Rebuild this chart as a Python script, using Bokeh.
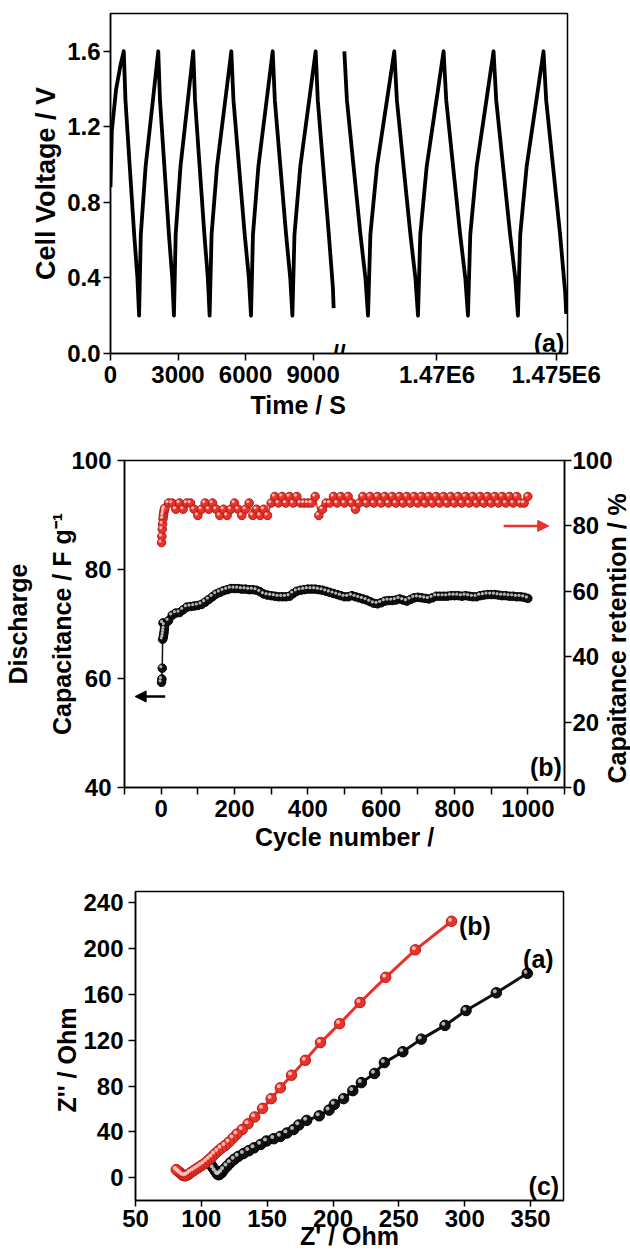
import math
from bokeh.plotting import figure
from bokeh.layouts import column
from bokeh.models import (Range1d, LinearAxis, Label, Arrow, NormalHead, Title,
                          ColumnDataSource, PrintfTickFormatter)
from bokeh.transform import dodge
from bokeh.embed import file_html
from bokeh.resources import INLINE

FONT = "Liberation Sans"
RED = "#e8322a"
TICK_SIZE = "24px"
TITLE_SIZE = "25px"

# ---------------- Panel (a): galvanostatic charge/discharge ----------------
time_seg1 = [0, 60, 250, 450, 590,
             665, 855, 1052, 1195, 1270,
             1347, 1560, 1883, 2122,
             2199, 2394, 2596, 2742, 2819,
             2896, 3110, 3436, 3676,
             3756, 3960, 4171, 4324, 4404,
             4491, 4732, 5098, 5368,
             5464, 5709, 5963, 6147, 6243,
             6330, 6570, 6936, 7206,
             7302, 7547, 7801, 7985, 8081,
             8174, 8433, 8825, 9115,
             9210, 9450, 9700, 9880, 9914]
volt_seg1 = [0.88, 1.18, 1.40, 1.53, 1.60,
             1.34, 0.99, 0.63, 0.40, 0.20,
             0.63, 0.99, 1.34, 1.60,
             1.34, 0.99, 0.63, 0.40, 0.20,
             0.63, 0.99, 1.34, 1.60,
             1.34, 0.99, 0.63, 0.40, 0.20,
             0.63, 0.99, 1.34, 1.60,
             1.34, 0.99, 0.63, 0.40, 0.20,
             0.63, 0.99, 1.34, 1.60,
             1.34, 0.99, 0.63, 0.40, 0.20,
             0.63, 0.99, 1.34, 1.60,
             1.34, 0.99, 0.63, 0.35, 0.24]
time_seg2 = [1466116, 1466225, 1466503, 1466791, 1467000, 1467109,
             1467208, 1467484, 1467902, 1468211,
             1468320, 1468598, 1468886, 1469095, 1469204,
             1469301, 1469569, 1469977, 1470277,
             1470389, 1470676, 1470972, 1471187, 1471299,
             1471396, 1471664, 1472072, 1472372,
             1472484, 1472771, 1473067, 1473282, 1473394,
             1473491, 1473759, 1474167, 1474467,
             1474579, 1474866, 1475162, 1475377, 1475418]
volt_seg2 = [1.60, 1.34, 0.99, 0.63, 0.40, 0.20,
             0.63, 0.99, 1.34, 1.60,
             1.34, 0.99, 0.63, 0.40, 0.20,
             0.63, 0.99, 1.34, 1.60,
             1.34, 0.99, 0.63, 0.40, 0.20,
             0.63, 0.99, 1.34, 1.60,
             1.34, 0.99, 0.63, 0.40, 0.20,
             0.63, 0.99, 1.34, 1.60,
             1.34, 0.99, 0.63, 0.32, 0.21]
tick_times_a = [0, 3000, 6000, 9000, 1470000, 1475000]
tick_labels_a = ["0", "3000", "6000", "9000", "1.47E6", "1.475E6"]
volt_ticks = [0.0, 0.4, 0.8, 1.2, 1.6]

# ---------------- Panel (b): cycling ----------------
cycles = [1, 2, 3, 4, 5, 6, 7, 8, 9] + list(range(10, 1001, 10))
discharge_cap = [59.3, 59.9, 61.9, 67.2, 70.2, 67.6, 68.1, 68.6, 69.1,
                 69.8, 70.6, 71.6, 72.0, 72.1, 72.6, 73.1, 73.2, 73.3, 73.4,
                 73.6, 74.0, 74.5, 75.0, 75.5, 75.8, 76.1, 76.3, 76.5, 76.5,
                 76.5, 76.4, 76.4, 76.3, 76.3, 76.2, 75.9, 75.5, 75.3, 75.2,
                 75.1, 75.0, 75.0, 75.0, 75.1, 75.6, 76.0, 76.2, 76.3, 76.4,
                 76.4, 76.4, 76.3, 76.2, 76.0, 75.8, 75.6, 75.4, 75.2, 75.0,
                 75.0, 75.2, 75.0, 74.8, 74.6, 74.4, 74.1, 73.8, 73.7, 73.9,
                 74.2, 74.3, 74.3, 74.4, 74.6, 74.4, 74.2, 74.5, 74.8, 74.9,
                 74.8, 74.7, 74.6, 74.8, 75.1, 75.1, 75.1, 75.1, 75.2, 75.2,
                 75.2, 75.1, 75.2, 75.1, 75.0, 75.0, 75.2, 75.3, 75.4, 75.4,
                 75.4, 75.3, 75.2, 75.2, 75.1, 75.1, 75.0, 75.0, 74.9, 74.7]
retention = [74.9, 76.8, 79.0, 80.6, 82.2, 83.2, 83.8, 84.6, 85.1,
             85.4, 87.0, 87.0, 85.1, 87.0, 85.1, 87.0, 87.0, 85.1, 83.2,
             85.1, 87.0, 85.1, 87.0, 85.1, 83.2, 85.1, 83.2, 85.1, 87.0,
             85.1, 83.2, 85.1, 87.0, 83.2, 85.1, 83.2, 85.1, 83.2, 87.0,
             89.0, 87.0, 89.0, 87.0, 89.0, 87.0, 89.0, 87.0, 87.0, 87.0,
             87.0, 89.0, 83.2, 85.1, 87.0, 87.0, 89.0, 87.0, 89.0, 87.0,
             89.0, 87.0, 85.1, 87.0, 89.0, 87.0, 89.0, 87.0, 89.0, 87.0,
             89.0, 87.0, 89.0, 87.0, 89.0, 87.0, 89.0, 87.0, 89.0, 87.0,
             89.0, 87.0, 89.0, 87.0, 89.0, 87.0, 89.0, 87.0, 89.0, 87.0,
             89.0, 87.0, 89.0, 87.0, 89.0, 87.0, 89.0, 87.0, 89.0, 87.0,
             89.0, 87.0, 89.0, 87.0, 89.0, 87.0, 89.0, 87.0, 87.0, 89.0]

# ---------------- Panel (c): Nyquist ----------------
zre_a = [347.5, 324, 301, 285, 267, 253, 239, 231.5, 221.5, 215, 208, 201, 197,
         189.5, 180, 174, 170, 165, 160, 155, 149.5, 145, 140, 136, 132, 128,
         125, 122, 119.5, 117, 115.5, 114, 113, 112, 110.5, 109, 107.5, 106]
zim_a = [178.5, 161.5, 146, 133, 121, 110, 100.5, 91, 83, 76, 69, 64, 59,
         54, 50, 46, 42, 39, 36, 34, 32, 29, 26, 23.5, 21, 18.5,
         16, 13, 10, 7, 4.5, 3, 2.5, 3.5, 6, 8.5, 11, 13]
zre_b = [290, 262.5, 240, 220.5, 205, 190.5, 179, 168.5, 160, 153, 146.5, 140.5,
         135.5, 131, 127, 124, 121, 118, 115, 112.5, 110, 108, 106, 104, 102,
         100, 98, 96, 94, 92, 90.5, 89, 87.5, 86, 85, 84, 83, 82, 81]
zim_b = [224, 199, 175, 153, 134.5, 118, 102.5, 89.5, 78.5, 69, 60.5, 53,
         47, 42, 38, 34.5, 31, 28, 25.5, 23, 20.5, 18, 16, 14, 12,
         10.5, 9, 7.5, 6, 4.5, 3, 2, 1.5, 2, 3, 4, 5, 6, 7]


def style_axis(ax, standoff, label="", label_standoff=5, tick_out=7,
               size=TICK_SIZE, label_size=TITLE_SIZE):
    ax.axis_line_color = "black"
    ax.axis_line_width = 1.5
    ax.major_tick_line_color = "black"
    ax.major_tick_line_width = 1.5
    ax.major_tick_out = tick_out
    ax.major_tick_in = 0
    ax.minor_tick_line_color = None
    ax.major_label_text_font = FONT
    ax.major_label_text_font_style = "bold"
    ax.major_label_text_font_size = size
    ax.major_label_text_color = "black"
    ax.major_label_standoff = standoff
    ax.axis_label = label
    ax.axis_label_text_font = FONT
    ax.axis_label_text_font_style = "bold"
    ax.axis_label_text_font_size = label_size
    ax.axis_label_text_color = "black"
    ax.axis_label_standoff = label_standoff


def base_fig(fw, fh, bl, br, bt, bb, xr, yr):
    p = figure(frame_width=fw, frame_height=fh, min_border_left=bl,
               min_border_right=br, min_border_top=bt, min_border_bottom=bb,
               x_range=xr, y_range=yr, output_backend="svg",
               toolbar_location=None)
    p.frame_align = False
    p.outline_line_color = "black"
    p.outline_line_width = 1.5
    p.xgrid.visible = False
    p.ygrid.visible = False
    p.background_fill_color = "white"
    p.border_fill_color = "white"
    return p


def label(p, text, x, y, align="center", baseline="middle", size="25px"):
    p.add_layout(Label(x=x, y=y, text=text, text_align=align,
                       text_baseline=baseline, text_font=FONT,
                       text_font_style="bold", text_font_size=size,
                       text_color="black"))


def spheres(p, xs, ys, base, edge, hl, size, dx, dy, lw,
            y_range_name="default"):
    src = ColumnDataSource(dict(x=xs, y=ys))
    p.line("x", "y", source=src, line_color=base, line_width=lw,
           y_range_name=y_range_name)
    p.scatter("x", "y", source=src, size=size, fill_color=base,
              line_color=edge, line_width=1, y_range_name=y_range_name)
    p.scatter(x=dodge("x", dx), y=dodge("y", dy), source=src,
              size=size * 0.38, fill_color=hl, line_color=None,
              fill_alpha=0.9, y_range_name=y_range_name)


# ---------- figure (a) ----------
SEG2_T0 = 1470000
SEG2_X0 = 14505
SEG2_K = 1.0597


def brk(t):
    return t if t < 1e6 else SEG2_X0 + (t - SEG2_T0) * SEG2_K


pa = base_fig(457, 340, 110, 63, 13, 67, Range1d(0, 20304), Range1d(0, 1.8))
pa.line([brk(t) for t in time_seg1], volt_seg1, line_color="black",
        line_width=3.8, line_join="round")
pa.line([brk(t) for t in time_seg2], volt_seg2, line_color="black",
        line_width=3.8, line_join="round")
style_axis(pa.xaxis[0], 0)
style_axis(pa.yaxis[0], 3, "Cell Voltage / V", 3, label_size="27px")
tick_pos = [brk(t) for t in tick_times_a]
pa.xaxis[0].ticker = tick_pos
pa.xaxis[0].major_label_overrides = {tp: lb for tp, lb in zip(tick_pos, tick_labels_a)}
pa.yaxis[0].ticker = volt_ticks
pa.yaxis[0].formatter = PrintfTickFormatter(format="%.1f")
pa.add_layout(Title(text="Time / S", align="left", offset=140, standoff=0,
                    vertical_align="top",
                    text_font=FONT, text_font_style="bold",
                    text_font_size=TITLE_SIZE, text_color="black"), "below")
# axis break mark (upper half is visible above the axis line)
brk_x = (9914 + brk(1466116)) / 2
label(pa, "//", brk_x, 0.0, size="24px")
label(pa, "(a)", 20158, 0.053, align="right", baseline="alphabetic")

# ---------- figure (b) ----------
pb = base_fig(440, 327, 124, 66, 40, 83, Range1d(-100, 1100), Range1d(40, 100))
pb.extra_y_ranges = {"ret": Range1d(0, 100)}
right = LinearAxis(y_range_name="ret")
pb.add_layout(right, "right")
style_axis(pb.xaxis[0], 5, "Cycle number /", 3)
style_axis(pb.yaxis[0], 6, "Discharge\nCapacitance / F g\u207b\u00b9", -8)
pb.yaxis[0].axis_label_text_line_height = 1.6
style_axis(right, 1)
pb.xaxis[0].ticker = list(range(-100, 1101, 100))
pb.xaxis[0].major_label_overrides = {v: ("" if v % 200 else str(v))
                                     for v in range(-100, 1101, 100)}
pb.xaxis[0].major_label_overrides[-100] = ""
pb.xaxis[0].major_label_overrides[1100] = ""
pb.yaxis[0].ticker = [40, 60, 80, 100]
right.ticker = [0, 20, 40, 60, 80, 100]
# right-hand title, read bottom-to-top, drawn as the only label of a bare axis
rt = LinearAxis(y_range_name="ret")
pb.add_layout(rt, "right")
style_axis(rt, 2, tick_out=0, size=TITLE_SIZE)
rt.axis_line_color = None
rt.major_tick_line_color = None
rt.ticker = [1.2]
rt.major_label_overrides = {1.2: "Capaitance retention / %"}
rt.major_label_orientation = math.pi / 2
spheres(pb, cycles, discharge_cap, "#111111", "#000000", "#c8c8c8", 8.5,
        -4.0, 0.27, 1.5)
spheres(pb, cycles, retention, RED, "#b01e18", "#ffc4bd", 8.5,
        -4.0, 0.45, 1.5, y_range_name="ret")
pb.add_layout(Arrow(x_start=934, y_start=80, x_end=1057, y_end=80,
                    y_range_name="ret", line_color=RED, line_width=2.5,
                    end=NormalHead(size=11, fill_color=RED, line_color=RED)))
pb.add_layout(Arrow(x_start=11, y_start=56.7, x_end=-71, y_end=56.7,
                    line_color="black", line_width=2.5,
                    end=NormalHead(size=11, fill_color="black",
                                   line_color="black")))
label(pb, "(b)", 1093, 43.8, align="right", baseline="alphabetic")

# ---------- figure (c) ----------
pc = base_fig(428, 309, 135, 67, 21, 56, Range1d(50, 375), Range1d(-20, 250))
style_axis(pc.xaxis[0], 3, "Z' / Ohm", -8, tick_out=6)
style_axis(pc.yaxis[0], 5)
pc.add_layout(Title(text="Z'' / Ohm", align="left", offset=88, standoff=0,
                    text_font=FONT, text_font_style="bold",
                    text_font_size=TITLE_SIZE, text_color="black"), "left")
pc.xaxis[0].ticker = [50, 100, 150, 200, 250, 300, 350]
pc.yaxis[0].ticker = [0, 40, 80, 120, 160, 200, 240]
spheres(pc, zre_a, zim_a, "#111111", "#000000", "#c8c8c8", 10.5,
        -1.2, 1.4, 3.0)
spheres(pc, zre_b, zim_b, RED, "#b01e18", "#ffc4bd", 10.5,
        -1.2, 1.4, 3.0)
label(pc, "(b)", 295.6, 219.7, align="left", baseline="alphabetic")
label(pc, "(a)", 344.3, 190.9, align="left", baseline="alphabetic")
label(pc, "(c)", 371.7, -7.2, align="right", baseline="alphabetic")

layout = column(pa, pb, pc, spacing=0)
open("out.html", "w").write(file_html(layout, INLINE))
